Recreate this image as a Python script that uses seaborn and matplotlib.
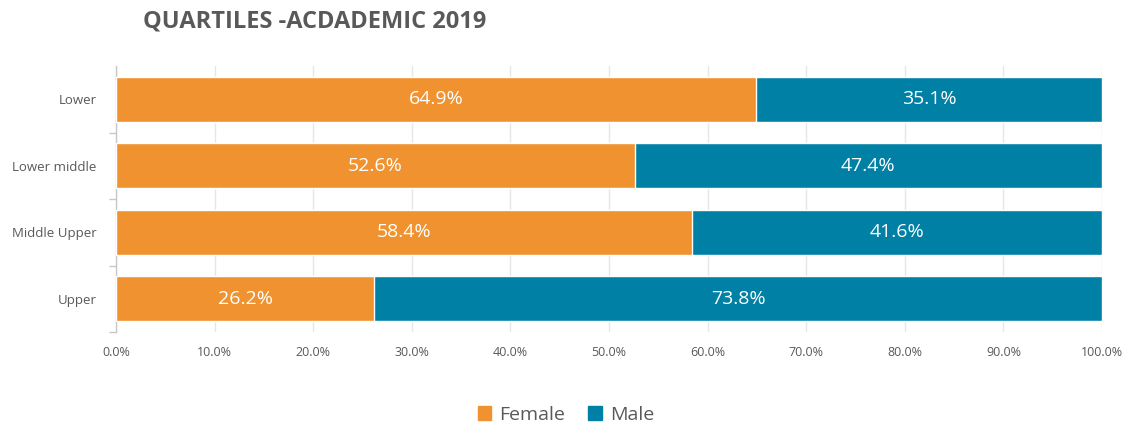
import numpy as np
import pandas as pd
import matplotlib
import matplotlib.pyplot as plt
from matplotlib.patches import Patch
from matplotlib.ticker import FuncFormatter
import seaborn as sns

matplotlib.use('Agg')

quartiles = ["Lower", "Lower middle", "Middle Upper", "Upper"]
female = [64.9, 52.6, 58.4, 26.2]
male = [35.1, 47.4, 41.6, 73.8]

ORANGE = "#F0922F"
TEAL = "#0080A4"
GREY = "#595959"

sns.set_theme(style="white")
plt.rcParams['font.family'] = ['Open Sans', 'DejaVu Sans']

df = pd.DataFrame({"quartile": quartiles, "female": female, "male": male})
df["total"] = df["female"] + df["male"]

fig = plt.figure(figsize=(11.32, 4.30), dpi=100)
ax = fig.add_axes([0.1025, 0.228, 0.871, 0.618])

# male part drawn as the full stack, female on top of it
sns.barplot(data=df, x="total", y="quartile", color=TEAL, width=0.68,
            saturation=1, ax=ax, zorder=2)
sns.barplot(data=df, x="female", y="quartile", color=ORANGE, width=0.68,
            saturation=1, ax=ax, zorder=3)

for i, (f, m) in enumerate(zip(female, male)):
    ax.text(f / 2, i, f"{f:.1f}%", color="white", ha="center", va="center",
            fontsize=14, zorder=4)
    ax.text(f + m / 2, i, f"{m:.1f}%", color="white", ha="center", va="center",
            fontsize=14, zorder=4)

ax.set_xlim(0, 100)
ax.set_ylim(3.5, -0.5)
ax.set_xticks(np.arange(0, 101, 10))
ax.xaxis.set_major_formatter(FuncFormatter(lambda v, _: f"{v:.1f}%"))
ax.grid(axis="x", color="#E6E6E6", linewidth=1, zorder=0)
ax.set_axisbelow(True)
ax.set_xlabel("")
ax.set_ylabel("")

for s in ["top", "right", "bottom"]:
    ax.spines[s].set_visible(False)
ax.spines["left"].set_color("#C8C8C8")
ax.spines["left"].set_linewidth(1)

ax.set_yticks(np.arange(len(quartiles)))
ax.set_yticklabels(quartiles)
ax.set_yticks(np.arange(0.5, len(quartiles), 1), minor=True)
ax.tick_params(axis="y", which="major", length=0, pad=14, labelsize=9.5,
               labelcolor=GREY)
ax.tick_params(axis="y", which="minor", length=5, color="#C8C8C8", left=True)
ax.tick_params(axis="x", length=0, pad=10, labelsize=9, labelcolor=GREY)

fig.text(0.126, 0.95, "QUARTILES -ACDADEMIC 2019", fontsize=17,
         fontweight="bold", color=GREY, ha="left", va="center")

handles = [Patch(color=ORANGE, label="Female"), Patch(color=TEAL, label="Male")]
fig.legend(handles=handles, loc="center", bbox_to_anchor=(0.5, 0.035), ncol=2,
           frameon=False, fontsize=14, labelcolor=GREY, handlelength=0.7,
           handleheight=0.7, handletextpad=0.4, columnspacing=1.2)

fig.savefig("out.png", dpi=100)
plt.close(fig)
